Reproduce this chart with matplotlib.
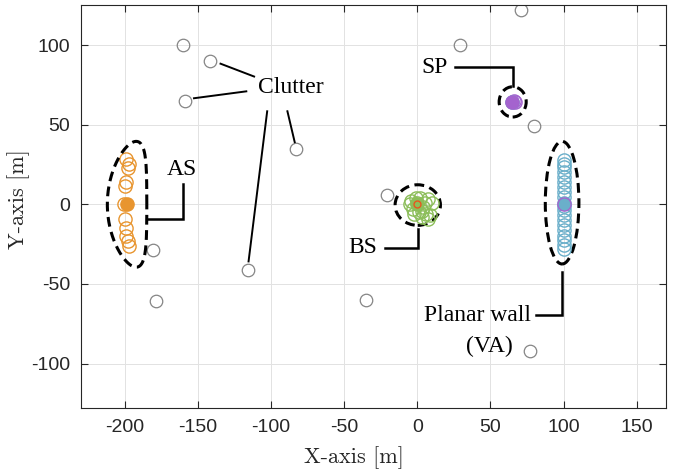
import numpy as np
import matplotlib
matplotlib.use("Agg")
import matplotlib.pyplot as plt
from matplotlib.patches import Ellipse

# ---------------- data ----------------
clutter_x = [-160, -142, -159, -83, -181, -179, -116, -21, -35, 29, 71, 80, 77]
clutter_y = [100, 90, 65, 35, -29, -61, -41, 6, -60, 100, 122, 49, -92]

as_y = [28.7, 25, 23, 14, 11.5, 0.4, -9, -15, -20, -23, -26]
as_x = [-199.0, -197.5, -198.0, -199.5, -200.0, -200.8, -200.0, -199.5, -199.0, -198.0, -197.5]
as_fill = (-198.8, 0.0)

bs_x = [-4, 2, 5, -3, 3, 6, 9, -5, 1, 7, 10, -1, 3, 7, 0, 4, -2]
bs_y = [2, 4, 1, -3, -4, -6, -7, 0, -5, 3, 1, 4, -8, -9, 1, -2, -6]
bs_fill = (0.0, 0.0)

va_y = [28.1, 25.6, 23.1, 20.3, 17.2, 14, 10.9, 7.7, 4.6, 1.0, -1.0,
        -3.8, -6.9, -9.6, -12.8, -16.4, -20.1, -22.6, -25.4, -27.9]
va_x = [100] * len(va_y)
va_fill = (100.0, 0.0)

sp_x = [66, 67, 65]
sp_y = [65, 64.5, 64]
sp_fill = (64.5, 64.3)

xticks = [-200, -150, -100, -50, 0, 50, 100, 150]
yticks = [-100, -50, 0, 50, 100]

# ---------------- colours ----------------
c_orange = "#E8952F"
c_green = "#8CBE5A"
c_blue = "#6AAFCA"
c_purple = "#A463CE"
c_red = "#E8561E"
c_grey = "#858585"

fig = plt.figure(figsize=(6.83, 4.74), dpi=100)
ax = fig.add_axes([0.1186, 0.139, 0.975 - 0.1186, 0.989 - 0.139])

ms = 9.5
ax.plot(clutter_x, clutter_y, 'o', ms=9, mfc='none', mec=c_grey, mew=0.9)
ax.plot(as_x, as_y, 'o', ms=ms, mfc='none', mec=c_orange, mew=1.0)
ax.plot(*as_fill, 'o', ms=ms, mfc=c_orange, mec=c_orange)
ax.plot(bs_x, bs_y, 'o', ms=ms, mfc='none', mec=c_green, mew=1.0)
ax.plot(*bs_fill, 'o', ms=ms, mfc=c_green, mec=c_green)
ax.plot(*bs_fill, 'o', ms=5, mfc='none', mec=c_red, mew=1.0)
ax.plot(va_x, va_y, 'o', ms=ms, mfc='none', mec=c_blue, mew=1.0)
ax.plot(*va_fill, 'o', ms=ms, mfc=c_blue, mec=c_purple, mew=1.0)
ax.plot(sp_x[:2], sp_y[:2], 'o', ms=ms, mfc='none', mec=c_purple, mew=1.0)
ax.plot(sp_x[2:], sp_y[2:], 'o', ms=ms, mfc='none', mec=c_blue, mew=1.0)
ax.plot(*sp_fill, 'o', ms=ms, mfc=c_purple, mec=c_purple)

# dashed outlines
dls = (0, (3.2, 1.8))
dash = dict(fill=False, ec='black', lw=2.2, ls=dls)
ax.add_patch(Ellipse((0.3, -0.5), 31, 25.5, **dash))
ax.add_patch(Ellipse((65.2, 64.3), 18.5, 19, **dash))
ax.add_patch(Ellipse((99, 1), 23, 77, **dash))
t = np.linspace(0, 2 * np.pi, 300)
by = 39.5 * np.sin(t)
bx = -198.5 + 13.5 * np.cos(t) + 0.004 * by ** 2
ax.plot(bx, by, color='black', lw=2.2, ls=dls)

# connectors
thin = dict(color='black', lw=1.4, solid_capstyle='butt')
ax.plot([-135.2, -111], [88.5, 80], **thin)
ax.plot([-153.4, -116.3], [66.5, 71], **thin)
ax.plot([-102.6, -115.5], [59, -36.5], **thin)
ax.plot([-89, -83.7], [59, 38.4], **thin)

thick = dict(color='black', lw=1.8, solid_joinstyle='miter')
ax.plot([-160.3, -160.3, -185], [12.6, -9, -9], **thick)
ax.plot([-22, 0.5, 0.5], [-27.2, -27.2, -15.3], **thick)
ax.plot([26, 65.2, 65.2], [86.4, 86.4, 74.2], **thick)
ax.plot([81.2, 99.1, 99.1], [-69.8, -69.8, -42.8], **thick)

tf = dict(family='Liberation Serif', fontsize=17, ha='center', va='center')
ax.text(-86.4, 73.3, 'Clutter', **tf)
ax.text(-160.7, 22, 'AS', **tf)
ax.text(-37, -27, 'BS', **tf)
ax.text(12, 86, 'SP', **tf)
ax.text(41, -70, 'Planar wall', **tf)
ax.text(49.5, -89, '(VA)', **tf)

ax.set_xlim(-230, 170)
ax.set_ylim(-128, 125)
ax.set_xticks(xticks)
ax.set_yticks(yticks)
sans = ['Liberation Sans', 'Arial', 'DejaVu Sans']
ax.set_xticklabels([str(v) for v in xticks], family=sans, fontsize=14)
ax.set_yticklabels([str(v) for v in yticks], family=sans, fontsize=14)
ax.tick_params(direction='in', length=5, width=0.8, color='#262626',
               top=True, right=True, labelcolor='#262626', pad=8)
ax.grid(True, color='#e2e2e2', lw=0.7)
ax.set_axisbelow(True)
for s in ax.spines.values():
    s.set_color('#262626')
    s.set_linewidth(0.8)

ax.set_xlabel('X-axis [m]', family='cmr10', fontsize=16, color='#262626')
ax.set_ylabel('Y-axis [m]', family='cmr10', fontsize=16, color='#262626')
ax.xaxis.set_label_coords(0.467, -0.095)
ax.yaxis.set_label_coords(-0.088, 0.52)

fig.savefig('out.png', dpi=100)
